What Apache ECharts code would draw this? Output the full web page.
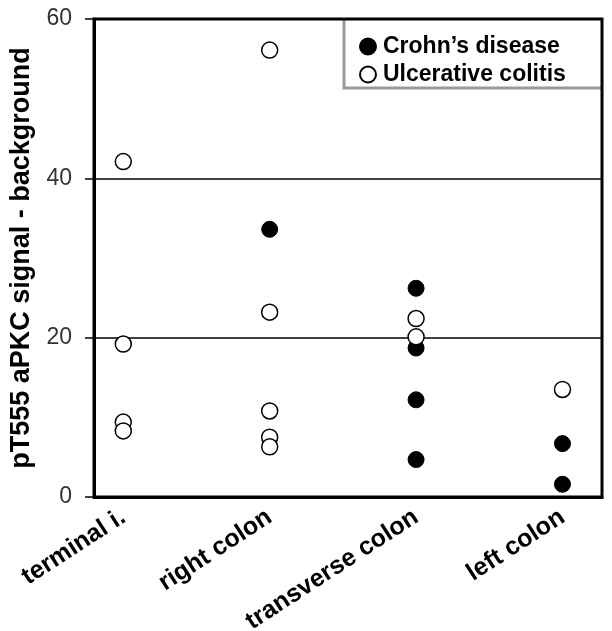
<!DOCTYPE html>
<html>
<head>
<meta charset="utf-8">
<script src="https://cdn.jsdelivr.net/npm/echarts@6/dist/echarts.min.js"></script>
<style>html,body{margin:0;padding:0;background:#fff}#c{width:612px;height:631px}</style>
</head>
<body>
<div id="c"></div>
<script>
const categories = ['terminal i.', 'right colon', 'transverse colon', 'left colon'];
const yTicks = [0, 20, 40, 60];
// Crohn's disease: [category index (1-based), value]
const crohnCategory = [2, 3, 3, 3, 3, 4, 4];
const crohnValues   = [33.6, 26.2, 18.7, 12.2, 4.7, 6.7, 1.6];
// Ulcerative colitis
const ucCategory = [1, 1, 1, 1, 2, 2, 2, 2, 2, 3, 3, 4];
const ucValues   = [42.1, 19.2, 9.4, 8.3, 56.1, 23.2, 10.8, 7.5, 6.3, 22.4, 20.1, 13.5];

const FONT = "'Liberation Sans', Arial, Helvetica, sans-serif";
const chart = echarts.init(document.getElementById('c'), null, {renderer: 'canvas'});
chart.setOption({
  animation: false,
  backgroundColor: '#fff',
  grid: {left: 94, top: 19, right: 10, bottom: 134, show: true, borderColor: '#000', borderWidth: 3, z: 10,
         containLabel: false, outerBoundsMode: 'none'},
  xAxis: {
    type: 'value', min: 0.8, max: 4.27,
    axisLine: {show: true, lineStyle: {color: '#000', width: 3}},
    axisTick: {show: false},
    splitLine: {show: false},
    axisLabel: {
      customValues: [1, 2, 3, 4],
      formatter: v => categories[Math.round(v) - 1] || '',
      rotate: 33, margin: 18,
      fontFamily: FONT, fontSize: 25, fontWeight: 'bold', color: '#000'
    }
  },
  yAxis: {
    type: 'value', min: yTicks[0], max: yTicks[yTicks.length - 1], interval: 20,
    name: 'pT555 aPKC signal - background',
    nameLocation: 'middle', nameGap: 55,
    nameTextStyle: {fontFamily: FONT, fontSize: 27, fontWeight: 'bold', color: '#000'},
    axisLine: {show: true, lineStyle: {color: '#000', width: 3}},
    axisTick: {show: true, length: 9, lineStyle: {color: '#000', width: 1.5}},
    splitLine: {show: true, lineStyle: {color: '#000', width: 1.5}},
    axisLabel: {margin: 22, fontFamily: FONT, fontSize: 23, color: '#333'}
  },
  legend: {
    orient: 'vertical', left: 354, top: 30, itemGap: 5,
    itemWidth: 16, itemHeight: 16,
    textStyle: {fontFamily: FONT, fontSize: 23, fontWeight: 'bold', color: '#000', padding: [0, 0, 0, 2]},
    data: [
      {name: "Crohn’s disease", icon: 'circle'},
      {name: 'Ulcerative colitis', icon: 'circle'}
    ]
  },
  graphic: [{
    type: 'polyline', z: 5,
    shape: {points: [[344, 19], [344, 88], [602, 88]]},
    style: {stroke: '#999', lineWidth: 3, fill: null}
  }],
  series: [
    {
      name: "Crohn’s disease", type: 'scatter', symbol: 'circle', symbolSize: 16,
      itemStyle: {color: '#000', borderColor: '#000', borderWidth: 1, opacity: 1},
      data: crohnCategory.map((c, i) => [c, crohnValues[i]])
    },
    {
      name: 'Ulcerative colitis', type: 'scatter', symbol: 'circle', symbolSize: 16,
      itemStyle: {color: '#fff', borderColor: '#000', borderWidth: 1.5, opacity: 1},
      data: ucCategory.map((c, i) => [c, ucValues[i]])
    }
  ]
});
</script>
</body>
</html>
